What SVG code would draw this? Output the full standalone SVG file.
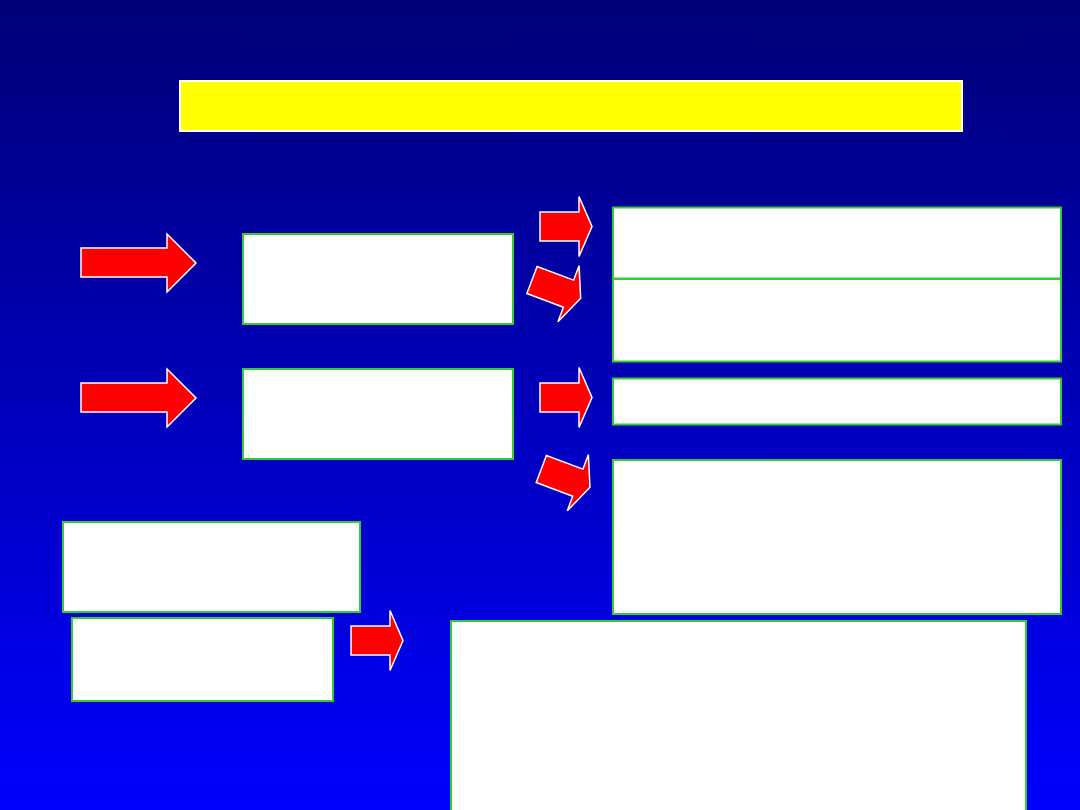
<svg xmlns="http://www.w3.org/2000/svg" width="1080" height="810" viewBox="0 0 1080 810">
  <defs>
    <linearGradient id="bg" x1="0" y1="0" x2="0" y2="1">
      <stop offset="0" stop-color="#000077"/>
      <stop offset="1" stop-color="#0000ff"/>
    </linearGradient>
    <polygon id="arrowSmall" points="0,-14.5 39,-14.5 39,-30 52,0 39,30 39,14.5 0,14.5"/>
  </defs>
  <style>
    .box { fill: #ffffff; stroke: #33cc33; stroke-width: 2; }
    .title { fill: #ffff00; stroke: #ffffff; stroke-width: 2; }
    .arrow { fill: #ff0000; stroke: #ffffff; stroke-width: 1.5; stroke-linejoin: miter; }
  </style>
  <rect x="0" y="0" width="1080" height="810" fill="url(#bg)"/>

  <g id="title"><rect class="title" x="180" y="81" width="782" height="50"/></g>

  <g id="boxA"><rect class="box" x="243" y="234" width="270" height="90"/></g>
  <g id="boxB"><rect class="box" x="243" y="369" width="270" height="90"/></g>

  <g id="right1"><rect class="box" x="613" y="207.5" width="448" height="71"/></g>
  <g id="right2"><rect class="box" x="613" y="279" width="448" height="82.5"/></g>
  <g id="right3"><rect class="box" x="613" y="378.5" width="448" height="46"/></g>
  <g id="right4"><rect class="box" x="613" y="460" width="448" height="154"/></g>

  <g id="leftBottom1"><rect class="box" x="63" y="522" width="297" height="90"/></g>
  <g id="leftBottom2"><rect class="box" x="72" y="618" width="261" height="83"/></g>

  <g id="bigBox"><rect class="box" x="451" y="621" width="575" height="200"/></g>

  <g id="connectors">
    <polygon class="arrow" points="81,248 167,248 167,234 196,263 167,292 167,277 81,277"/>
    <polygon class="arrow" points="81,383 167,383 167,369 196,398 167,427 167,412 81,412"/>
    <use href="#arrowSmall" class="arrow" transform="translate(540,226.5)"/>
    <use href="#arrowSmall" class="arrow" transform="translate(532,280) rotate(20.6)"/>
    <use href="#arrowSmall" class="arrow" transform="translate(540,397.5)"/>
    <use href="#arrowSmall" class="arrow" transform="translate(541.3,469) rotate(20.6)"/>
    <use href="#arrowSmall" class="arrow" transform="translate(351,640.5)"/>
  </g>
</svg>
